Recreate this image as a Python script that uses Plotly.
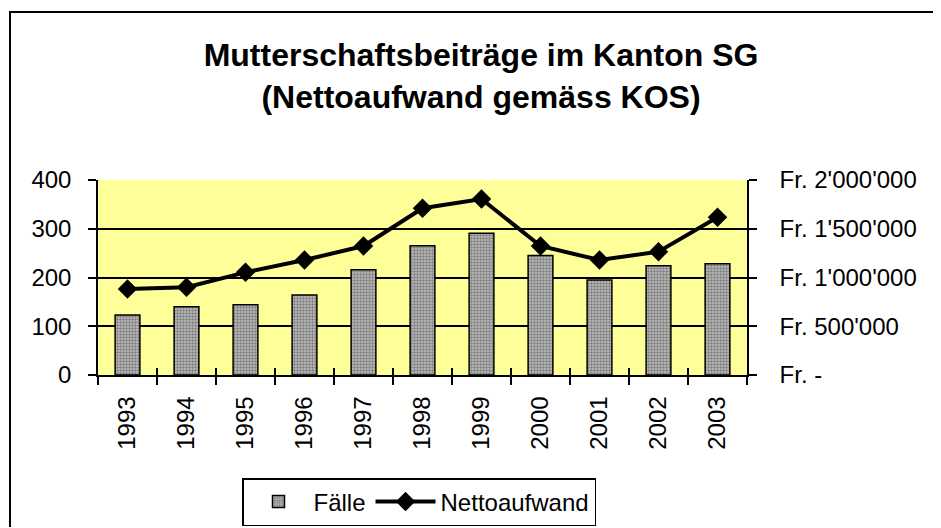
import plotly.graph_objects as go

years = ["1993", "1994", "1995", "1996", "1997", "1998", "1999", "2000", "2001", "2002", "2003"]
faelle = [123, 140, 144, 164, 216, 265, 291, 245, 195, 224, 228]
nettoaufwand = [882000, 900000, 1053000, 1179000, 1323000, 1710000, 1805000, 1323000, 1179000, 1265000, 1617000]
left_ticks = [0, 100, 200, 300, 400]
right_tickvals = [0, 500000, 1000000, 1500000, 2000000]
right_ticktext = ["Fr. -", "Fr. 500'000", "Fr. 1'000'000", "Fr. 1'500'000", "Fr. 2'000'000"]

FONT = "Arial, Liberation Sans, sans-serif"
OFF = 8  # page body margin
W, H = 941 - 2 * OFF, 528 - OFF
L, T = 98 - OFF, 180 - OFF
R = W - (747 - OFF)
B = H - (375 - OFF)
PW, PH = W - L - R, H - T - B

def px_x(p):  # page pixel -> paper x
    return (p - OFF - L) / PW

def px_y(p):  # page pixel -> paper y
    return 1 - (p - OFF - T) / PH

fig = go.Figure()
fig.add_trace(go.Bar(
    x=years, y=faelle, name="Fälle", width=0.42,
    marker=dict(color="#a0a0a0", line=dict(color="black", width=1.5),
                pattern=dict(shape=".", fgcolor="#3a3a3a", bgcolor="#c0c0c0", size=3, solidity=0.5)),
    yaxis="y",
))
fig.add_trace(go.Scatter(
    x=years, y=nettoaufwand, name="Nettoaufwand", mode="lines+markers",
    line=dict(color="black", width=4),
    marker=dict(symbol="diamond", size=15, color="black"),
    yaxis="y2",
))
# invisible helper trace for the inside tick overlays
fig.add_trace(go.Scatter(x=[0], y=[0], xaxis="x3", yaxis="y3", mode="markers",
                         marker=dict(opacity=0), showlegend=False, hoverinfo="skip"))

bx0, bx1 = px_x(10), px_x(941)
by_top, by_bot = px_y(12), px_y(527)

fig.update_layout(
    width=W, height=H,
    margin=dict(l=L, r=R, t=T, b=B, autoexpand=False),
    paper_bgcolor="white",
    plot_bgcolor="#ffff99",
    font=dict(family=FONT, size=24, color="black"),
    title=dict(text="<b>Mutterschaftsbeiträge im Kanton SG<br>(Nettoaufwand gemäss KOS)</b>",
               x=(481 - OFF) / W, xanchor="center", y=1 - 58 / H, yanchor="top",
               font=dict(family=FONT, size=32, color="black")),
    xaxis=dict(type="category", range=[-0.5, 10.5], tickson="boundaries",
               ticks="outside", ticklen=8, tickwidth=1.5, tickcolor="black",
               tickangle=-90, ticklabelstandoff=10, automargin=False,
               showline=True, linecolor="black", linewidth=1.5, showgrid=False,
               tickfont=dict(size=24)),
    yaxis=dict(range=[0, 400], tickvals=left_ticks, ticks="outside", ticklen=8,
               tickwidth=1.5, tickcolor="black", showline=True, linecolor="black",
               linewidth=1.5, showgrid=True, gridcolor="black", gridwidth=1.5,
               zeroline=False, ticklabelstandoff=12, automargin=False, tickfont=dict(size=24)),
    yaxis2=dict(range=[0, 2000000], overlaying="y", side="right",
                tickvals=right_tickvals, ticktext=right_ticktext,
                ticks="outside", ticklen=8, tickwidth=1.5, tickcolor="black",
                showline=True, linecolor="black", linewidth=1.5, showgrid=False,
                zeroline=False, ticklabelstandoff=18, automargin=False, tickfont=dict(size=24)),
    xaxis3=dict(overlaying="x", range=[-0.5, 10.5], tickvals=[i - 0.5 for i in range(12)],
                ticks="inside", ticklen=7, tickwidth=1.5, tickcolor="black", automargin=False,
                showticklabels=False, showgrid=False, zeroline=False, anchor="y3"),
    yaxis3=dict(overlaying="y", range=[0, 400], tickvals=left_ticks, ticks="inside",
                ticklen=7, tickwidth=1.5, tickcolor="black", showticklabels=False, automargin=False,
                showgrid=False, zeroline=False, anchor="x3", side="right"),
    legend=dict(orientation="h", x=px_x(419), xanchor="center", y=px_y(478), yanchor="top",
                bordercolor="black", borderwidth=1.5, bgcolor="white",
                font=dict(size=24), traceorder="normal", itemwidth=60),
    showlegend=True,
    shapes=[dict(type="path", xref="paper", yref="paper",
                 path=f"M {bx0},{by_bot} L {bx0},{by_top} L {bx1},{by_top}",
                 line=dict(color="black", width=2), layer="above")],
)

fig.write_html("out.html")
